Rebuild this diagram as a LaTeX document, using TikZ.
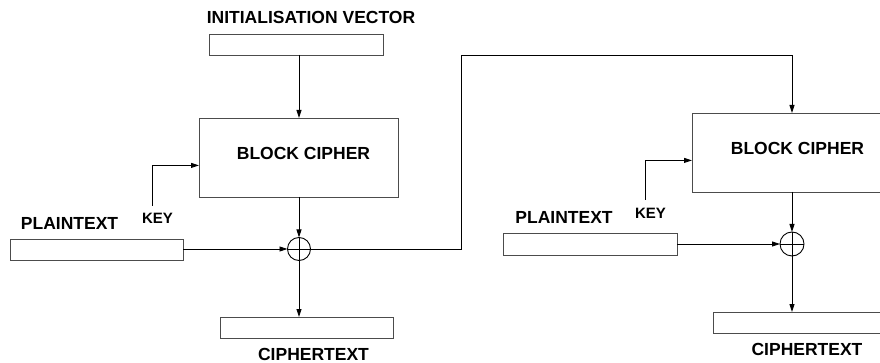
\documentclass[tikz,border=0pt]{standalone}
\usepackage{fontspec}
\setmainfont{Liberation Sans}
\usetikzlibrary{arrows.meta,calc}

\tikzset{
  boxframe/.style={draw=black!70, line width=0.9pt, rectangle, inner sep=0pt, outer sep=0pt},
  lbl/.style={font=\fontsize{17.5}{20}\selectfont\bfseries, inner sep=0pt, anchor=base},
  keylbl/.style={font=\fontsize{15}{18}\selectfont\bfseries, inner sep=0pt, anchor=base},
  xorop/.style={draw=black, line width=0.9pt, circle, minimum size=#1, inner sep=0pt, outer sep=0pt,
    path picture={
      \draw[line width=0.8pt] (path picture bounding box.north) -- (path picture bounding box.south)
        (path picture bounding box.west) -- (path picture bounding box.east);}},
  arr/.style={draw=black, line width=0.9pt, -{Triangle[length=8pt,width=5pt]}},
  wire/.style={draw=black, line width=0.9pt},
}

\begin{document}
\begin{tikzpicture}[x=1pt, y=-1pt]
\clip (0,0) rectangle (880,363);
\fill[white] (0,0) rectangle (880,363);

% ---- first stage ----
\node[lbl] (ivl) at (311,24) {INITIALISATION VECTOR};
\node[boxframe, minimum width=174pt, minimum height=21pt] (iv) at (296,44.5) {};
\node[boxframe, minimum width=199pt, minimum height=79pt] (bc1) at (298.5,157.5) {};
\node[lbl] (bc1l) at (303.5,160) {BLOCK CIPHER};
\node[keylbl] (k1l) at (157.5,223.3) {KEY};
\coordinate (k1) at (152,206);
\node[lbl] (pt1l) at (69.5,229.3) {PLAINTEXT};
\node[boxframe, minimum width=173pt, minimum height=21pt] (pt1) at (96.5,249.5) {};
\node[xorop=23pt] (x1) at (299,249) {};
\node[boxframe, minimum width=173pt, minimum height=21pt] (ct1) at (306.5,327.5) {};
\node[lbl] (ct1l) at (313.5,360) {CIPHERTEXT};

\draw[arr] (x1 |- iv.south) -- (x1 |- bc1.north);
\draw[arr] (x1 |- bc1.south) -- (x1.north);
\draw[arr] (k1) |- ($(bc1.north west)!0.6!(bc1.south west)$);
\draw[arr] (pt1.east |- x1) -- (x1.west);
\draw[arr] (x1.south) -- (x1 |- ct1.north);

% ---- chaining to the second stage ----
\coordinate (up) at (461,55);

% ---- second stage ----
\node[boxframe, minimum width=199pt, minimum height=79pt] (bc2) at (791.5,152.5) {};
\node[lbl] (bc2l) at (797.5,155) {BLOCK CIPHER};
\node[keylbl] (k2l) at (650.5,218.3) {KEY};
\coordinate (k2) at (645,200);
\node[lbl] (pt2l) at (564,223.3) {PLAINTEXT};
\node[boxframe, minimum width=174pt, minimum height=22pt] (pt2) at (590,244) {};
\node[xorop=24pt] (x2) at (792,244) {};
\node[boxframe, minimum width=173pt, minimum height=21pt] (ct2) at (799.5,322.5) {};
\node[lbl] (ct2l) at (807,355) {CIPHERTEXT};

\draw[wire] (x1.east) -| (up);
\draw[arr] (up) -| (x2 |- bc2.north);
\draw[arr] (x2 |- bc2.south) -- (x2.north);
\draw[arr] (k2) |- ($(bc2.north west)!0.6!(bc2.south west)$);
\draw[arr] (pt2.east) -- (x2.west);
\draw[arr] (x2.south) -- (x2 |- ct2.north);
\end{tikzpicture}
\end{document}
